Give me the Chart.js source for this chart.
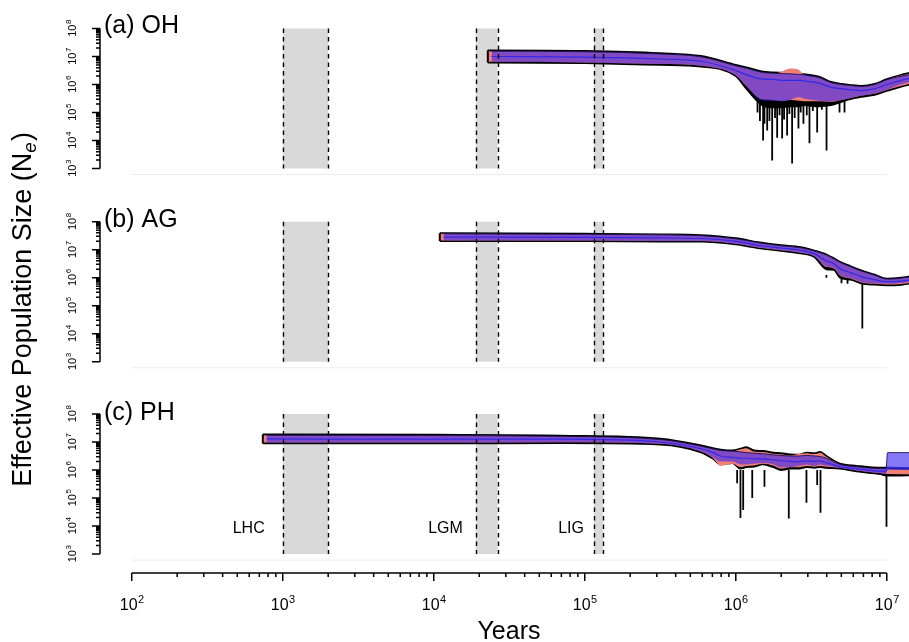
<!DOCTYPE html>
<html>
<head>
<meta charset="utf-8">
<script src="https://cdn.jsdelivr.net/npm/chart.js@4.4.0/dist/chart.umd.min.js"></script>
<style>
html, body { margin: 0; padding: 0; background: #fff; overflow: hidden; width: 909px; height: 642px; }
canvas { position: absolute; left: 0; top: 0; }
</style>
</head>
<body>
<canvas id="panel-a" width="930" height="642"></canvas>
<canvas id="panel-b" width="930" height="642"></canvas>
<canvas id="panel-c" width="930" height="642"></canvas>
<script>
// all values in log10 units (x = years, y = Ne)

// (a) OH
const ohYears  = [4.358,4.383,5.0,5.5,5.77,6.0,6.07,6.17,6.25,6.3,6.36,6.42,6.45,6.55,6.63,6.7,6.75,6.83,6.92,7.0,7.08,7.2];
const ohTop    = [7.22,7.22,7.2,7.12,7.02,6.7,6.61,6.47,6.43,6.42,6.41,6.39,6.37,6.28,6.09,6.02,5.99,5.95,6.02,6.19,6.32,6.47];
const ohBot    = [6.78,6.78,6.76,6.7,6.64,6.3,5.85,5.28,5.18,5.18,5.22,5.22,5.26,5.22,5.26,5.38,5.47,5.56,5.63,5.77,5.9,6.05];
const ohRedHi  = [7.19,7.19,7.17,7.09,6.99,6.67,6.58,6.44,6.4,6.45,6.57,6.52,6.35,6.25,6.07,6.0,5.97,5.93,6.0,6.17,6.3,6.45];
const ohRedLo  = [6.81,6.81,6.79,6.73,6.67,6.33,5.95,5.48,5.45,5.42,5.45,5.42,5.4,5.4,5.38,5.45,5.5,5.6,5.67,5.8,5.93,6.08];
const ohBlueHi = [7.19,7.19,7.17,7.09,6.99,6.67,6.58,6.44,6.4,6.39,6.38,6.36,6.35,6.25,6.07,6.0,5.97,5.93,6.0,6.17,6.28,6.4];
const ohBlueLo = [6.81,6.81,6.79,6.73,6.67,6.33,5.95,5.45,5.42,5.4,5.45,5.55,5.5,5.42,5.4,5.45,5.5,5.6,5.67,5.8,5.98,6.14];
const ohMid    = [7.0,7.0,6.98,6.91,6.83,6.5,6.35,6.2,6.18,6.15,6.15,6.15,6.13,6.05,5.9,5.85,5.82,5.78,5.85,6.0,6.13,6.27];
const ohSpikeYears = [6.144,6.16,6.181,6.19,6.208,6.223,6.241,6.26,6.274,6.29,6.307,6.32,6.34,6.355,6.373,6.39,6.415,6.43,6.448,6.47,6.488,6.51,6.539,6.57,6.601,6.687,6.72];
const ohSpikeLows  = [5.0,4.7,4.0,4.6,4.36,4.7,3.29,4.8,4.1,4.9,4.07,4.75,4.18,4.95,3.18,4.8,4.43,5.0,4.6,4.9,3.9,5.05,4.29,5.1,3.64,5.0,5.0];

// (b) AG
const agYears  = [4.04,4.065,5.0,5.5,5.77,6.0,6.16,6.3,6.43,6.52,6.6,6.65,6.69,6.76,6.83,6.92,7.0,7.08,7.2];
const agTop    = [7.59,7.59,7.57,7.55,7.52,7.41,7.26,7.16,7.09,6.97,6.83,6.69,6.57,6.41,6.26,6.11,5.97,5.99,6.09];
const agBot    = [7.31,7.31,7.31,7.29,7.29,7.19,7.05,6.96,6.87,6.74,6.3,6.28,6.0,5.93,5.8,5.75,5.73,5.74,5.83];
const agRedHi  = [7.57,7.57,7.55,7.53,7.5,7.39,7.24,7.14,7.07,6.95,6.81,6.67,6.55,6.39,6.24,6.09,5.95,5.97,6.07];
const agRedLo  = [7.33,7.33,7.33,7.31,7.31,7.21,7.07,6.98,6.89,6.77,6.38,6.33,6.08,5.97,5.83,5.78,5.76,5.77,5.85];
const agBlueHi = [7.57,7.57,7.55,7.53,7.5,7.39,7.24,7.14,7.07,6.95,6.81,6.67,6.55,6.39,6.24,6.09,5.95,5.97,6.07];
const agBlueLo = [7.33,7.33,7.33,7.31,7.31,7.21,7.07,6.98,6.89,6.77,6.4,6.35,6.1,5.99,5.85,5.8,5.78,5.8,5.88];
const agMid    = [7.45,7.45,7.44,7.42,7.4,7.3,7.15,7.06,6.98,6.86,6.6,6.5,6.32,6.18,6.04,5.93,5.86,5.87,5.95];
const agSpikeYears = [6.6,6.66,6.7,6.74,6.838];
const agSpikeLows  = [6.1,6.0,5.8,5.78,4.19];

// (c) PH
const phYears  = [2.868,2.893,4.0,4.84,5.5,5.77,5.85,5.9,5.98,6.03,6.07,6.12,6.18,6.25,6.3,6.36,6.42,6.47,6.52,6.56,6.6,6.69,6.8,6.96,6.995,7.005,7.2];
const phTop    = [7.27,7.27,7.26,7.23,7.12,6.88,6.78,6.73,6.7,6.76,6.82,6.7,6.68,6.62,6.6,6.56,6.55,6.62,6.6,6.65,6.5,6.23,6.15,6.08,6.08,6.08,6.06];
const phBot    = [6.95,6.95,6.95,6.96,6.91,6.63,6.4,6.2,6.25,6.05,6.1,6.12,6.2,6.1,6.0,6.05,6.05,6.1,6.08,6.1,6.08,6.05,5.95,5.85,5.8,5.8,5.82];
const phRedHi  = [7.24,7.24,7.23,7.2,7.09,6.85,6.75,6.7,6.67,6.74,6.78,6.66,6.64,6.58,6.56,6.52,6.58,6.6,6.57,6.62,6.47,6.2,6.12,6.05,6.05,6.04,6.02];
const phRedLo  = [6.98,6.98,6.98,6.99,6.94,6.66,6.42,6.15,6.22,6.1,6.14,6.16,6.22,6.15,6.05,6.1,6.1,6.14,6.12,6.14,6.12,6.08,5.98,5.88,5.86,5.86,5.84];
const phBlueHi = [7.24,7.24,7.23,7.2,7.09,6.85,6.75,6.7,6.67,6.65,6.62,6.6,6.58,6.54,6.52,6.5,6.5,6.52,6.5,6.48,6.42,6.2,6.12,6.05,6.05,6.62,6.62];
const phBlueLo = [6.98,6.98,6.98,6.99,6.94,6.66,6.45,6.3,6.3,6.2,6.2,6.22,6.25,6.2,6.1,6.1,6.15,6.2,6.15,6.2,6.15,6.08,5.98,5.88,5.86,6.0,6.0];
const phMid    = [7.11,7.11,7.1,7.1,7.0,6.76,6.62,6.5,6.45,6.42,6.42,6.4,6.4,6.36,6.33,6.31,6.3,6.33,6.31,6.32,6.26,6.12,6.05,5.96,5.96,6.08,6.07];
const phSpikeYears = [6.009,6.031,6.049,6.109,6.19,6.351,6.468,6.539,6.561,6.998];
const phSpikeLows  = [5.53,4.29,4.57,5.0,5.4,4.27,4.83,5.46,4.47,3.97];

// shaded periods (years)
const periodNames = ['LHC', 'LGM', 'LIG'];
const periodStart = [1000, 19000, 115000];
const periodEnd   = [2000, 26500, 132000];
const periodLabelGap = [18, 13, 10];

// tick exponents
const xTickExps = [2, 3, 4, 5, 6, 7];
const yTickExps = [3, 4, 5, 6, 7, 8];

const FONT = '"Liberation Sans", Arial, Helvetica, sans-serif';

const pts = (xs, ys) => xs.map((x, i) => ({ x: 10 ** x, y: 10 ** ys[i] }));

function buildDatasets(p) {
    const spikes = [];
    p.spikeYears.forEach((x, i) => {
        spikes.push({ x: 10 ** x, y: 1e6 }, { x: 10 ** x, y: 10 ** p.spikeLows[i] }, { x: 10 ** x, y: null });
    });
    const bx = p.years.slice(1);
    const smooth = { pointRadius: 0, cubicInterpolationMode: 'monotone' };
    return [
        { data: spikes, borderColor: '#000', borderWidth: 1.8, pointRadius: 0, spanGaps: false, fill: false, order: 9 },
        { data: pts(p.years, p.top), borderColor: '#000', borderWidth: 1.8, backgroundColor: '#000', fill: '+1', order: 8, ...smooth },
        { data: pts(p.years, p.bot), borderColor: '#000', borderWidth: 1.8, fill: false, order: 8, ...smooth },
        { data: pts(p.years, p.redHi), borderWidth: 0, backgroundColor: 'rgb(240,128,118)', fill: '+1', order: 6, ...smooth },
        { data: pts(p.years, p.redLo), borderWidth: 0, fill: false, order: 6, ...smooth },
        { data: pts(bx, p.blueHi.slice(1)), borderColor: 'rgba(20,15,90,0.9)', borderWidth: 1,
          backgroundColor: 'rgba(66,44,238,0.64)', fill: '+1', order: 4, ...smooth },
        { data: pts(bx, p.blueLo.slice(1)), borderWidth: 0, fill: false, order: 4, ...smooth },
        { data: pts(bx, p.mid.slice(1)), borderColor: 'rgb(50,40,235)', borderWidth: 1.2, fill: false, order: 2, ...smooth },
        { data: [{ x: 10 ** p.years[0], y: 10 ** p.bot[0] }, { x: 10 ** p.years[0], y: 10 ** p.top[0] }],
          borderColor: '#000', borderWidth: 2, pointRadius: 0, fill: false, order: 1 }
    ];
}

function drawPow(ctx, exp, x, y, size, sup) {
    ctx.font = size + 'px ' + FONT;
    const w1 = ctx.measureText('10').width;
    ctx.font = sup + 'px ' + FONT;
    const w2 = ctx.measureText(String(exp)).width;
    const x0 = x - (w1 + w2) / 2;
    ctx.textAlign = 'left';
    ctx.textBaseline = 'alphabetic';
    ctx.font = size + 'px ' + FONT;
    ctx.fillText('10', x0, y + size * 0.36);
    ctx.font = sup + 'px ' + FONT;
    ctx.fillText(String(exp), x0 + w1 + 0.5, y + size * 0.36 - size * 0.45);
}

function decor(p) {
    return {
        id: 'decor',
        beforeDatasetsDraw(chart) {
            const { ctx, scales: { x, y } } = chart;
            ctx.save();
            ctx.fillStyle = '#d9d9d9';
            periodStart.forEach((s, i) => {
                const x1 = x.getPixelForValue(s), x2 = x.getPixelForValue(periodEnd[i]);
                ctx.fillRect(x1, y.getPixelForValue(1e8), x2 - x1, y.getPixelForValue(1e3) - y.getPixelForValue(1e8));
            });
            ctx.restore();
        },
        afterDatasetsDraw(chart) {
            const { ctx, scales: { x, y } } = chart;
            ctx.save();
            ctx.strokeStyle = '#000';
            ctx.lineWidth = 1.4;
            ctx.setLineDash([4.5, 4]);
            periodStart.concat(periodEnd).forEach(v => {
                const px = Math.round(x.getPixelForValue(v)) + 0.5;
                ctx.beginPath();
                ctx.moveTo(px, y.getPixelForValue(1e8));
                ctx.lineTo(px, y.getPixelForValue(1e3));
                ctx.stroke();
            });
            ctx.restore();
        },
        afterDraw(chart) {
            const { ctx, chartArea, scales: { x, y } } = chart;
            ctx.save();
            ctx.fillStyle = '#000';
            // very faint axis line along the panel bottom
            ctx.strokeStyle = '#ececec';
            ctx.lineWidth = 1;
            ctx.beginPath();
            ctx.moveTo(x.getPixelForValue(100), chartArea.bottom + 0.5);
            ctx.lineTo(x.getPixelForValue(1e7), chartArea.bottom + 0.5);
            ctx.stroke();
            // y axis
            const ax = chartArea.left;
            ctx.strokeStyle = '#000';
            ctx.lineWidth = 1.5;
            ctx.beginPath();
            ctx.moveTo(ax, y.getPixelForValue(1e3));
            ctx.lineTo(ax, y.getPixelForValue(1e8));
            for (let e = 3; e <= 8; e++) {
                const py = y.getPixelForValue(10 ** e);
                ctx.moveTo(ax, py);
                ctx.lineTo(ax - 8, py);
                if (e < 8) {
                    for (let m = 2; m <= 9; m++) {
                        const my = y.getPixelForValue(m * 10 ** e);
                        ctx.moveTo(ax, my);
                        ctx.lineTo(ax - 4, my);
                    }
                }
            }
            ctx.stroke();
            yTickExps.forEach(e => {
                ctx.save();
                ctx.translate(72, y.getPixelForValue(10 ** e));
                ctx.rotate(-Math.PI / 2);
                drawPow(ctx, e, 0, 0, 11, 8);
                ctx.restore();
            });
            // panel label
            ctx.font = '25px ' + FONT;
            ctx.textAlign = 'left';
            ctx.textBaseline = 'alphabetic';
            ctx.fillText(p.label, 104, p.labelY);

            if (p.bottom) {
                // x axis
                const ay = 573;
                ctx.lineWidth = 1.5;
                ctx.beginPath();
                ctx.moveTo(x.getPixelForValue(100), ay);
                ctx.lineTo(x.getPixelForValue(1e7), ay);
                for (let e = 2; e <= 7; e++) {
                    const px = x.getPixelForValue(10 ** e);
                    ctx.moveTo(px, ay);
                    ctx.lineTo(px, ay + 8);
                    if (e < 7) {
                        for (let m = 2; m <= 9; m++) {
                            const mx = x.getPixelForValue(m * 10 ** e);
                            ctx.moveTo(mx, ay);
                            ctx.lineTo(mx, ay + 4);
                        }
                    }
                }
                ctx.stroke();
                xTickExps.forEach(e => drawPow(ctx, e, x.getPixelForValue(10 ** e), 604, 16, 11));

                ctx.font = '25px ' + FONT;
                ctx.textAlign = 'center';
                ctx.fillText('Years', 509, 639);

                // period names
                ctx.font = '16px ' + FONT;
                ctx.textAlign = 'right';
                periodNames.forEach((n, i) => {
                    ctx.fillText(n, x.getPixelForValue(periodStart[i]) - periodLabelGap[i], 533);
                });

                // y title
                ctx.save();
                ctx.translate(31, 310);
                ctx.rotate(-Math.PI / 2);
                ctx.font = '27px ' + FONT;
                const t1 = 'Effective Population Size (N', t3 = ')';
                const w1 = ctx.measureText(t1).width, w3 = ctx.measureText(t3).width;
                ctx.font = 'italic 19px ' + FONT;
                const w2 = ctx.measureText('e').width;
                const sx = -(w1 + w2 + w3) / 2;
                ctx.textAlign = 'left';
                ctx.font = '27px ' + FONT;
                ctx.fillText(t1, sx, 0);
                ctx.font = 'italic 19px ' + FONT;
                ctx.fillText('e', sx + w1, 5);
                ctx.font = '27px ' + FONT;
                ctx.fillText(t3, sx + w1 + w2 + 1, 0);
                ctx.restore();
            }
            ctx.restore();
        }
    };
}

const panels = [
    { id: 'panel-a', label: '(a) OH', labelY: 33, areaTop: 22.9, areaBottom: 174.1, bottom: false,
      years: ohYears, top: ohTop, bot: ohBot, redHi: ohRedHi, redLo: ohRedLo, blueHi: ohBlueHi, blueLo: ohBlueLo,
      mid: ohMid, spikeYears: ohSpikeYears, spikeLows: ohSpikeLows },
    { id: 'panel-b', label: '(b) AG', labelY: 227, areaTop: 216.1, areaBottom: 367.3, bottom: false,
      years: agYears, top: agTop, bot: agBot, redHi: agRedHi, redLo: agRedLo, blueHi: agBlueHi, blueLo: agBlueLo,
      mid: agMid, spikeYears: agSpikeYears, spikeLows: agSpikeLows },
    { id: 'panel-c', label: '(c) PH', labelY: 420, areaTop: 408.4, areaBottom: 559.6, bottom: true,
      years: phYears, top: phTop, bot: phBot, redHi: phRedHi, redLo: phRedLo, blueHi: phBlueHi, blueLo: phBlueLo,
      mid: phMid, spikeYears: phSpikeYears, spikeLows: phSpikeLows }
];

for (const p of panels) {
    new Chart(document.getElementById(p.id), {
        type: 'line',
        data: { datasets: buildDatasets(p) },
        options: {
            responsive: false,
            animation: false,
            devicePixelRatio: 1,
            layout: { padding: { left: 100, right: 13, top: p.areaTop, bottom: 642 - p.areaBottom } },
            plugins: { legend: { display: false }, tooltip: { enabled: false } },
            scales: {
                x: { type: 'logarithmic', min: 10 ** 1.79, max: 10 ** 7.2, display: false },
                y: { type: 'logarithmic', min: 10 ** 2.8, max: 10 ** 8.2, display: false }
            }
        },
        plugins: [decor(p)]
    });
}
</script>
</body>
</html>
